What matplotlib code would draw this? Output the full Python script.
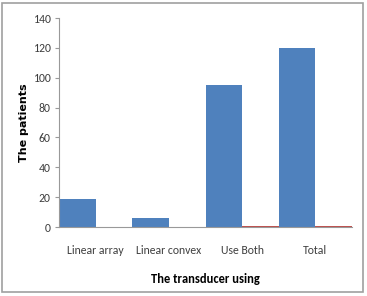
import matplotlib
matplotlib.use("Agg")
import matplotlib.pyplot as plt
import numpy as np
from matplotlib.patches import Rectangle

categories = ["Linear array", "Linear convex", "Use Both", "Total"]
patients = [19, 6, 95, 120]
second_series = [0, 0, 0.4, 1]
y_ticks = [0, 20, 40, 60, 80, 100, 120, 140]

plt.rcParams['font.family'] = ['Carlito', 'Liberation Sans', 'DejaVu Sans']

fig = plt.figure(figsize=(3.67, 2.96), dpi=100)
ax = fig.add_axes([0.161, 0.233, 0.798, 0.706])

x = np.arange(len(categories))
ax.bar(x - 0.5, patients, width=0.5, align='edge', color='#4F81BD')
ax.bar(x, second_series, width=0.5, align='edge', color='#C0504D')

ax.set_xlim(-0.5, 3.5)
ax.set_ylim(0, 140)
ax.set_yticks(y_ticks)
ax.set_xticks(x)
ax.set_xticklabels(categories, fontsize=8.5, color='#404040')
ax.tick_params(axis='x', length=0, pad=13)
ax.tick_params(axis='y', length=3, color='#999999', labelsize=8.5, labelcolor='#404040', pad=3)

for side in ['top', 'right']:
    ax.spines[side].set_visible(False)
ax.spines['left'].set_color('#999999')
ax.spines['bottom'].set_color('#999999')

ax.set_xlabel("The transducer using", fontsize=9, fontweight='bold', labelpad=12)
ax.set_ylabel("The patients", fontsize=8, fontweight='bold', family='DejaVu Sans', labelpad=3)

# outer frame
fig.patches.append(Rectangle((0.006, 0.012), 0.982, 0.978, transform=fig.transFigure,
                             fill=False, edgecolor='#A0A0A0', linewidth=1.2))

fig.savefig("out.png", dpi=100)
